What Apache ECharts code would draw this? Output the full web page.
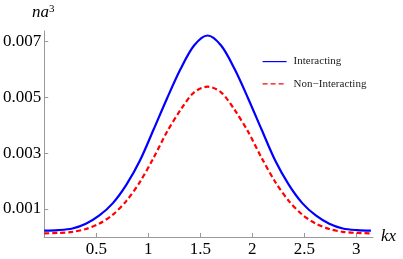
<!DOCTYPE html>
<html>
<head>
<meta charset="utf-8">
<script src="https://cdn.jsdelivr.net/npm/echarts@6/dist/echarts.min.js"></script>
<style>
html,body{margin:0;padding:0;background:#fff;}
#c{width:403px;height:259px;}
</style>
</head>
<body>
<div id="c"></div>
<script>
var xs = [0, 0.13, 0.27, 0.40, 0.53, 0.66, 0.79, 0.92, 1.05, 1.18, 1.31, 1.44, 1.57,
          1.70, 1.83, 1.96, 2.09, 2.22, 2.35, 2.48, 2.61, 2.74, 2.87, 3.01, 3.14];
var interacting = [0.000225, 0.000245, 0.000305, 0.000475, 0.00077, 0.00121, 0.00187, 0.00273, 0.00383, 0.00495, 0.00600, 0.00684, 0.0072,
                   0.00684, 0.00600, 0.00495, 0.00383, 0.00273, 0.00187, 0.00121, 0.00077, 0.000475, 0.000305, 0.000245, 0.000225];
var nonInteracting = [0.00013, 0.000145, 0.000184, 0.000285, 0.00048, 0.0008, 0.00129, 0.00197, 0.00282, 0.00376, 0.00454, 0.00517, 0.00537,
                      0.00517, 0.00454, 0.00376, 0.00282, 0.00197, 0.00129, 0.0008, 0.00048, 0.000285, 0.000184, 0.000145, 0.00013];
var xTicks = [0.5, 1, 1.5, 2, 2.5, 3];
var yTicks = [0.001, 0.003, 0.005, 0.007];
var seriesNames = ['Interacting', 'Non\u2212Interacting'];

function pairs(a, b) { return a.map(function (v, i) { return [v, b[i]]; }); }

var FONT = 'Liberation Serif';
var chart = echarts.init(document.getElementById('c'), null, {renderer: 'canvas'});
chart.setOption({
  animation: false,
  backgroundColor: '#fff',
  grid: {left: 44, right: 30, top: 31, bottom: 22, containLabel: false},
  legend: {
    orient: 'vertical',
    left: 257, top: 51,
    itemWidth: 24, itemHeight: 14, itemGap: 11,
    itemStyle: {opacity: 0},
    lineStyle: {width: 1.2},
    textStyle: {fontFamily: FONT, fontSize: 11, color: '#222', padding: [0, 0, 0, 2]},
    data: seriesNames
  },
  xAxis: {
    type: 'value', min: 0, max: 3.16,
    name: 'kx', nameLocation: 'end', nameGap: 8,
    nameTextStyle: {fontFamily: FONT, fontStyle: 'italic', fontSize: 17, color: '#000', verticalAlign: 'middle', padding: [4, 0, 0, 0]},
    axisLine: {show: true, lineStyle: {color: '#999', width: 1}},
    axisTick: {show: true, inside: true, length: 4, customValues: xTicks, lineStyle: {color: '#999'}},
    axisLabel: {customValues: xTicks, margin: 4, fontFamily: FONT, fontSize: 17, color: '#000',
      formatter: function (v) { return String(v); }},
    splitLine: {show: false}
  },
  yAxis: {
    type: 'value', min: 0, max: 0.00736,
    axisLine: {show: true, lineStyle: {color: '#999', width: 1}},
    axisTick: {show: true, inside: true, length: 4, customValues: yTicks, lineStyle: {color: '#999'}},
    axisLabel: {customValues: yTicks, margin: 3, fontFamily: FONT, fontSize: 17, color: '#000',
      formatter: function (v) { return v.toFixed(3); }},
    splitLine: {show: false}
  },
  graphic: [{
    type: 'text', left: 32, top: 4,
    style: {
      text: '{a|na}{b|3}',
      rich: {
        a: {fontFamily: FONT, fontStyle: 'italic', fontSize: 17, fill: '#000'},
        b: {fontFamily: FONT, fontSize: 11, fill: '#000', padding: [0, 0, 7, 0]}
      }
    }
  }],
  series: [{
    name: seriesNames[0], type: 'line', data: pairs(xs, interacting),
    smooth: 0.3, showSymbol: false, symbol: 'none',
    lineStyle: {color: '#0000ff', width: 2.2},
    itemStyle: {color: '#0000ff'}
  }, {
    name: seriesNames[1], type: 'line', data: pairs(xs, nonInteracting),
    smooth: 0.3, showSymbol: false, symbol: 'none',
    lineStyle: {color: '#ff0000', width: 2.2, type: [5, 3]},
    itemStyle: {color: '#ff0000'}
  }]
});
</script>
</body>
</html>
